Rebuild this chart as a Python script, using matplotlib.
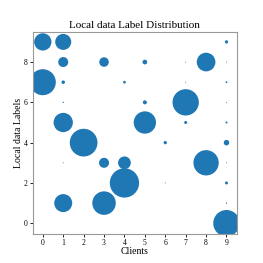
import matplotlib
matplotlib.use("Agg")
import matplotlib.pyplot as plt

plt.rcParams['font.family'] = ['Liberation Serif', 'DejaVu Serif']

# client index, label index, marker area (pt^2)
clients = [0, 1, 1, 3, 5, 7, 8, 9, 9,
           0, 1, 4, 7, 9,
           1, 5, 7, 9,
           1, 5, 7, 9,
           2, 6, 9,
           1, 3, 4, 8, 9,
           4, 6, 9,
           1, 3, 9,
           9]
labels = [9, 9, 8, 8, 8, 8, 8, 8, 9,
          7, 7, 7, 7, 7,
          6, 6, 6, 6,
          5, 5, 5, 5,
          4, 4, 4,
          3, 3, 3, 3, 3,
          2, 2, 2,
          1, 1, 1,
          0]
sizes = [155, 133, 52, 47, 11.5, 0.5, 181, 0.5, 5.6,
         350, 6.4, 3.8, 0.5, 1.7,
         0.9, 8.3, 359, 0.5,
         193, 258, 4.7, 2.1,
         398, 5.6, 15.7,
         0.5, 52, 84, 332, 0.5,
         445, 0.5, 4.7,
         168, 286, 0.9,
         364]

fig = plt.figure(figsize=(2.63, 2.63), dpi=100)
ax = fig.add_axes([0.124, 0.109, 0.776, 0.770])
ax.scatter(clients, labels, s=sizes, color='#1f77b4', linewidths=0)

ax.set_xlim(-0.5, 9.5)
ax.set_ylim(-0.55, 9.5)
ax.set_xticks(range(10))
ax.set_yticks([0, 2, 4, 6, 8])
ax.tick_params(labelsize=5.5, length=2, width=0.6, pad=1.5)
for sp in ax.spines.values():
    sp.set_color('#999999')
    sp.set_linewidth(0.8)

ax.set_title('Local data Label Distribution', fontsize=8, pad=3)
ax.set_xlabel('Clients', fontsize=7, labelpad=0)
ax.set_ylabel('Local data Labels', fontsize=7, labelpad=0.5)

fig.savefig('out.png', dpi=100)
